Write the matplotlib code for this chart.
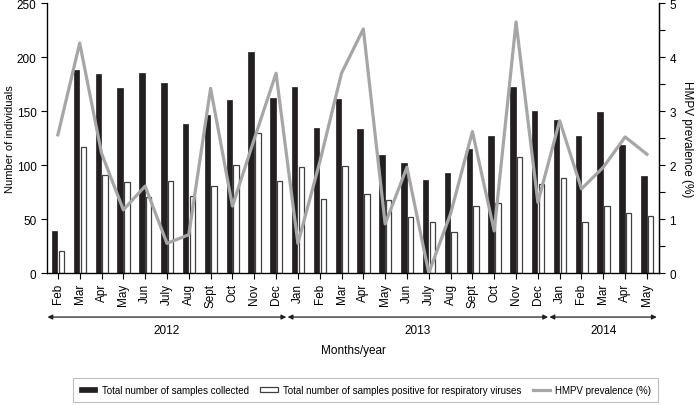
import numpy as np
import matplotlib.pyplot as plt
from matplotlib.ticker import MultipleLocator

plt.rcParams['font.family'] = ['Liberation Sans', 'DejaVu Sans']

months = ['Feb', 'Mar', 'Apr', 'May', 'Jun', 'July', 'Aug', 'Sept', 'Oct', 'Nov', 'Dec',
          'Jan', 'Feb', 'Mar', 'Apr', 'May', 'Jun', 'July', 'Aug', 'Sept', 'Oct', 'Nov', 'Dec',
          'Jan', 'Feb', 'Mar', 'Apr', 'May']
collected = [39, 188, 184, 171, 185, 176, 138, 146, 160, 205, 162,
             172, 134, 161, 133, 109, 102, 86, 93, 115, 127, 172, 150,
             142, 127, 149, 119, 90]
positive = [20, 117, 91, 84, 70, 85, 71, 81, 100, 130, 85,
            98, 69, 99, 73, 68, 52, 47, 38, 62, 65, 107, 82,
            88, 47, 62, 56, 53]
prevalence = [2.56, 4.26, 2.22, 1.17, 1.61, 0.55, 0.71, 3.42, 1.24, 2.48, 3.70,
              0.55, 2.05, 3.70, 4.52, 0.91, 1.96, 0.0, 1.1, 2.62, 0.78, 4.65, 1.31,
              2.82, 1.56, 1.96, 2.52, 2.20]
years = ['2012', '2013', '2014']
year_start = [0, 11, 23]
year_end = [10, 22, 27]

x = np.arange(len(months))

fig = plt.figure(figsize=(6.97, 4.06), dpi=100)
ax = fig.add_axes([0.0674, 0.325, 0.878, 0.665])

w = 0.25
ax.bar(x - w / 2 - 0.02, collected, width=w, color='#231f20', edgecolor='#231f20',
       linewidth=0.5, label='Total number of samples collected')
ax.bar(x + w / 2 + 0.04, positive, width=w, color='white', edgecolor='#404040',
       linewidth=0.9, label='Total number of samples positive for respiratory viruses')

ax.set_xlim(-0.5, 27.55)
ax.set_ylim(0, 250)
ax.set_yticks(range(0, 251, 50))
ax.set_xticks(x)
ax.set_xticklabels(months, rotation=90, fontsize=8.5)
ax.tick_params(axis='y', labelsize=8.5, direction='out', length=4, width=0.8)
ax.tick_params(axis='x', direction='out', length=4, width=0.8, pad=3)
ax.set_ylabel('Number of individuals', fontsize=8)
ax.yaxis.set_label_coords(-0.052, 0.5)
ax.spines['top'].set_visible(False)
for s in ['left', 'bottom', 'right']:
    ax.spines[s].set_linewidth(0.9)

ax2 = ax.twinx()
ax2.plot(x, prevalence, color='#a6a6a6', linewidth=2.3, label='HMPV prevalence (%)')
ax2.set_ylim(0, 5)
ax2.yaxis.set_major_locator(MultipleLocator(1))
ax2.yaxis.set_minor_locator(MultipleLocator(0.5))
ax2.tick_params(axis='y', which='both', direction='out', width=0.8, labelsize=8.5)
ax2.tick_params(axis='y', which='major', length=4)
ax2.tick_params(axis='y', which='minor', length=4)
ax2.set_ylabel('HMPV prevalence (%)', rotation=270, fontsize=8.5, labelpad=12)
ax2.spines['top'].set_visible(False)
ax2.spines['right'].set_linewidth(0.9)

# year arrows under the month labels
bounds = [-0.48, 10.5, 22.5, 27.45]
for i, yr in enumerate(years):
    x0 = bounds[i] + (0.03 if i > 0 else 0)
    x1 = bounds[i + 1] - (0.03 if i < 2 else 0)
    ax.annotate('', xy=(x1, -0.163), xytext=(x0, -0.163),
                xycoords=('data', 'axes fraction'), textcoords=('data', 'axes fraction'),
                arrowprops=dict(arrowstyle='<|-|>', color='#231f20', lw=0.9,
                                mutation_scale=7, shrinkA=0, shrinkB=0),
                annotation_clip=False)
    ax.text((year_start[i] + year_end[i]) / 2, -0.21, yr, transform=ax.get_xaxis_transform(),
            ha='center', va='center', fontsize=8.5)

ax.text(0.5, -0.285, 'Months/year', transform=ax.transAxes, ha='center', va='center',
        fontsize=8.5)

h1, l1 = ax.get_legend_handles_labels()
h2, l2 = ax2.get_legend_handles_labels()
leg = fig.legend(h1 + h2, l1 + l2, loc='center', bbox_to_anchor=(0.524, 0.037), ncol=3,
                 fontsize=7, frameon=True, fancybox=False, edgecolor='#b0b0b0',
                 handlelength=1.8, handleheight=0.45, columnspacing=1.2, handletextpad=0.5,
                 borderpad=0.7)
leg.get_frame().set_linewidth(0.8)

fig.savefig('out.png', dpi=100)
